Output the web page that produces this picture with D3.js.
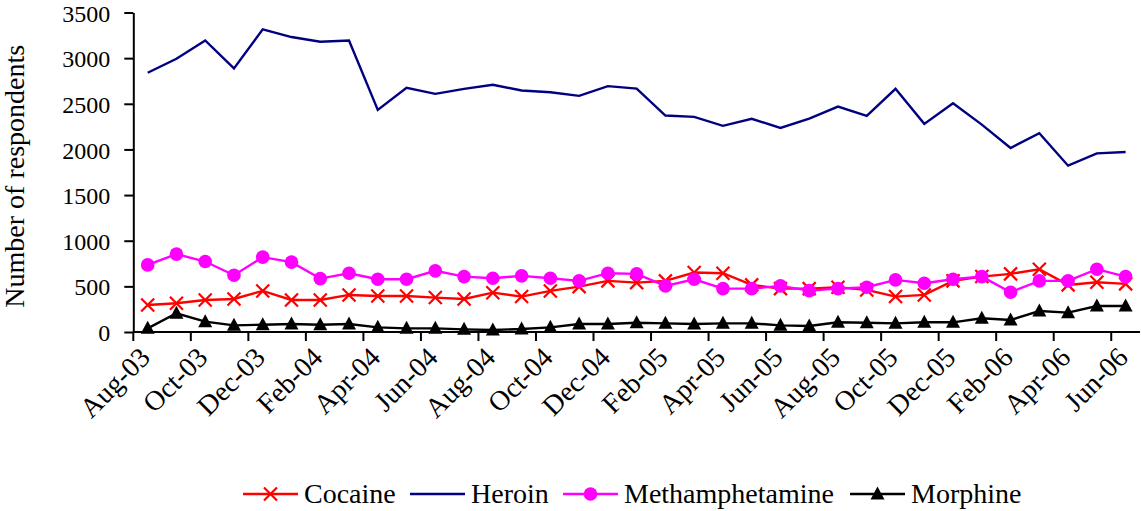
<!DOCTYPE html>
<html><head><meta charset="utf-8">
<script src="https://cdn.jsdelivr.net/npm/d3@7"></script>
<style>
html,body{margin:0;padding:0;background:#fff;}
svg{display:block;}
</style></head>
<body><svg id="chart" width="1142" height="511"></svg>
<script>
const months = ["Aug-03","Sep-03","Oct-03","Nov-03","Dec-03","Jan-04","Feb-04","Mar-04","Apr-04","May-04","Jun-04","Jul-04","Aug-04","Sep-04","Oct-04","Nov-04","Dec-04","Jan-05","Feb-05","Mar-05","Apr-05","May-05","Jun-05","Jul-05","Aug-05","Sep-05","Oct-05","Nov-05","Dec-05","Jan-06","Feb-06","Mar-06","Apr-06","May-06","Jun-06"];
const cocaine = [296,315,351,362,450,351,351,406,395,395,377,362,431,388,450,497,560,541,560,651,644,516,475,475,490,461,388,406,560,607,637,688,516,545,527];
const heroin = [2840,2993,3194,2887,3315,3231,3180,3194,2433,2675,2609,2664,2708,2645,2627,2587,2693,2667,2371,2357,2258,2335,2236,2338,2470,2367,2664,2280,2506,2272,2016,2177,1822,1957,1972];
const methamphetamine = [735,853,772,622,820,765,585,644,578,578,670,607,589,615,589,560,644,637,505,578,475,475,505,453,475,490,571,534,578,607,436,560,560,688,607];
const morphine = [40,205,113,73,80,88,80,88,51,40,40,29,22,33,51,88,88,102,95,88,95,95,73,66,106,102,95,106,106,150,132,230,212,285,285];
const yTicks = [0,500,1000,1500,2000,2500,3000,3500];
const yTitle = "Number of respondents";
const seriesNames = ["Cocaine","Heroin","Methamphetamine","Morphine"];

(function(){
const FONT = "Liberation Serif, Tinos, Noto Serif, DejaVu Serif, FreeSerif, Times New Roman, Times, serif";
const svg = d3.select("#chart");
const pl = 133.3, pr = 1140, pt = 12.5, pb = 332;
const x = d3.scaleBand().domain(months).range([pl, pr]).paddingInner(0).paddingOuter(0);
const bw = x.bandwidth();
const cx = m => x(m) + bw / 2;
const y = d3.scaleLinear().domain([0, 3500]).range([pb, pt]);

const series = [
  {name: seriesNames[0], values: cocaine, color: "#FF0000", marker: "x"},
  {name: seriesNames[1], values: heroin, color: "#000080", marker: "none"},
  {name: seriesNames[2], values: methamphetamine, color: "#FF00FF", marker: "circle"},
  {name: seriesNames[3], values: morphine, color: "#000000", marker: "triangle"}
];

function drawMarker(g, type, px, py, color) {
  if (type === "x") {
    const s = 6.5;
    g.append("path").attr("d", `M${px-s},${py-s}L${px+s},${py+s}M${px-s},${py+s}L${px+s},${py-s}`)
      .attr("stroke", color).attr("stroke-width", 2.2).attr("fill", "none");
  } else if (type === "circle") {
    g.append("circle").attr("cx", px).attr("cy", py).attr("r", 6.8).attr("fill", color);
  } else if (type === "triangle") {
    g.append("path").attr("d", `M${px},${py-7.5}L${px+7},${py+5.5}L${px-7},${py+5.5}Z`).attr("fill", color);
  }
}

const line = d3.line().x((d, i) => cx(months[i])).y(d => y(d));
series.forEach(s => {
  const g = svg.append("g");
  g.append("path").datum(s.values).attr("d", line).attr("fill", "none")
    .attr("stroke", s.color).attr("stroke-width", 2.4).attr("stroke-linejoin", "miter");
  s.values.forEach((v, i) => drawMarker(g, s.marker, cx(months[i]), y(v), s.color));
});

// Y axis
const yAxis = svg.append("g").attr("transform", `translate(${pl},0)`)
  .call(d3.axisLeft(y).tickValues(yTicks).tickSize(9).tickSizeOuter(0).tickPadding(14).tickFormat(d3.format("d")));
yAxis.attr("font-family", FONT).attr("font-size", 24);
yAxis.selectAll("path,line").attr("stroke", "#000").attr("stroke-width", 2);
yAxis.selectAll("text").attr("fill", "#000").attr("dy", "0.36em");

// X axis
const labelMonths = months.filter((m, i) => i % 2 === 0);
const xAxis = svg.append("g").attr("transform", `translate(0,${pb})`)
  .call(d3.axisBottom(x).tickValues(labelMonths).tickSize(9).tickSizeOuter(0));
xAxis.attr("font-family", FONT).attr("font-size", 28);
xAxis.select(".domain").attr("d", `M${pl},0H${pr}`);
xAxis.selectAll("path,line").attr("stroke", "#000").attr("stroke-width", 2);
xAxis.selectAll(".tick line").attr("x1", -bw / 2).attr("x2", -bw / 2);
xAxis.selectAll(".tick text").attr("fill", "#000")
  .attr("text-anchor", "end").attr("dy", null).attr("y", 0).attr("x", 0)
  .attr("transform", "translate(4,27) rotate(-45)");

// Y title
svg.append("text").attr("transform", `translate(24,${(pt + pb) / 2 + 4}) rotate(-90)`)
  .attr("text-anchor", "middle").attr("font-family", FONT).attr("font-size", 28).text(yTitle);

// Legend
const legendY = 494;
const legendPos = [243, 410, 563, 850];
series.forEach((s, i) => {
  const g = svg.append("g");
  const x0 = legendPos[i];
  g.append("line").attr("x1", x0).attr("x2", x0 + 55).attr("y1", legendY).attr("y2", legendY)
    .attr("stroke", s.color).attr("stroke-width", 2.4);
  drawMarker(g, s.marker, x0 + 27.5, legendY, s.color);
  g.append("text").attr("x", x0 + 61).attr("y", legendY + 9).attr("font-family", FONT).attr("font-size", 28).text(s.name);
});
})();
</script></body></html>
